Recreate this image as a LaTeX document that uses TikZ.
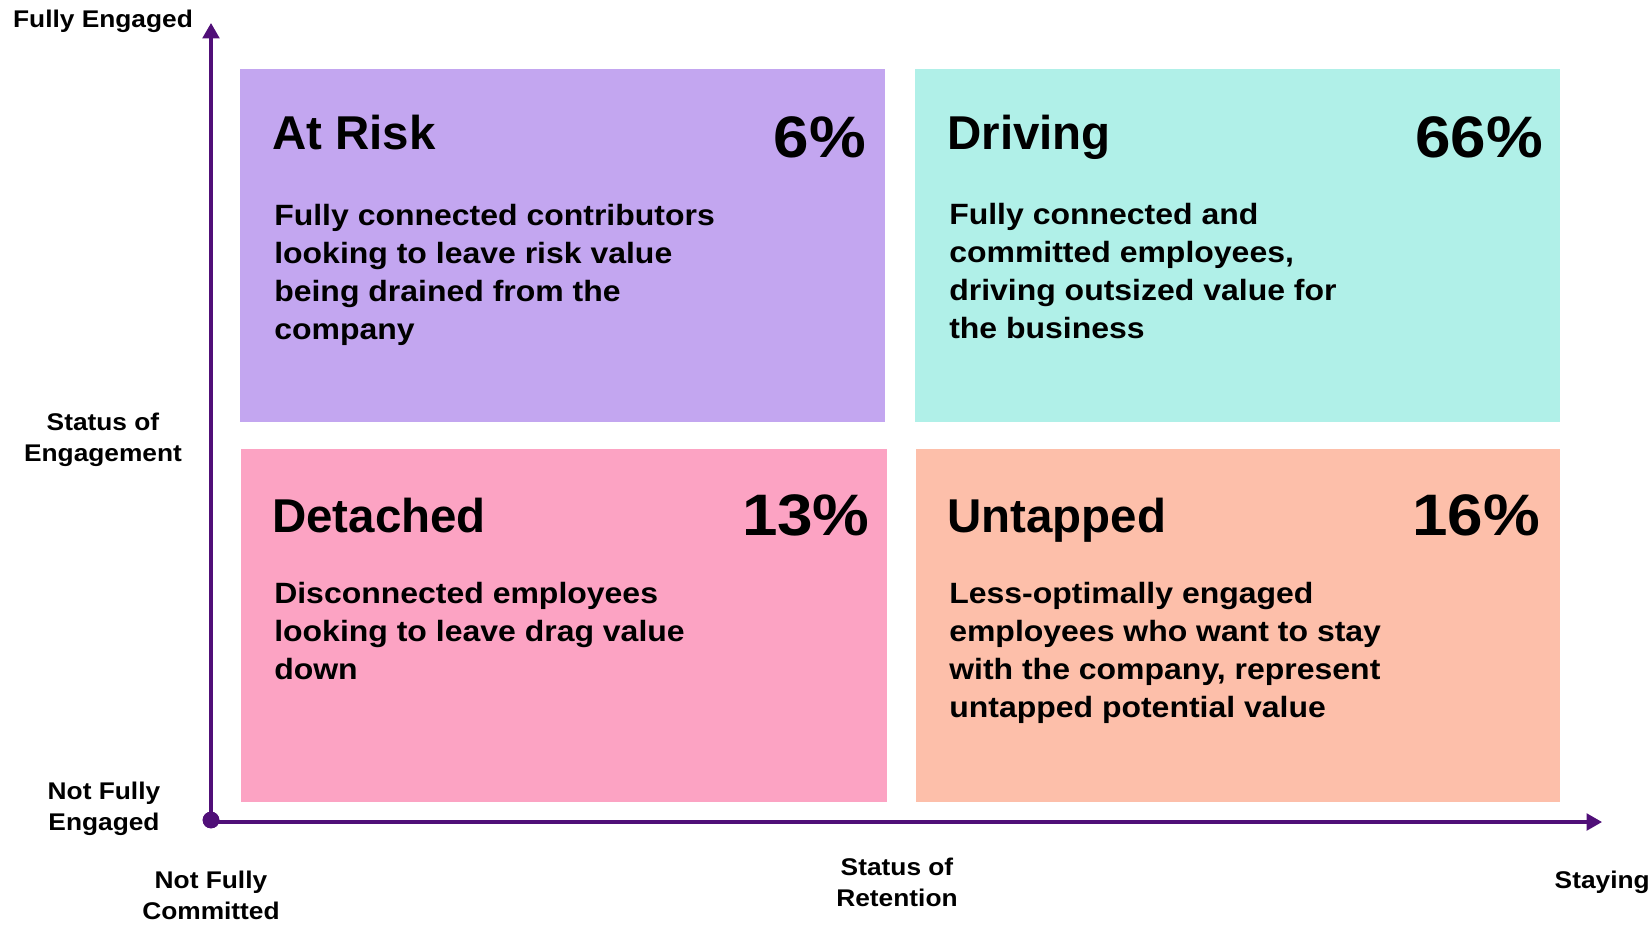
\documentclass[tikz,border=0pt]{standalone}
\usepackage{fontspec}
\setmainfont{Liberation Sans}
\newfontfamily\widefont{Liberation Sans}[FakeStretch=1.09]
\usetikzlibrary{arrows.meta}

\definecolor{riskfill}{RGB}{195,166,240}
\definecolor{drivefill}{RGB}{176,240,232}
\definecolor{detachfill}{RGB}{252,163,195}
\definecolor{untapfill}{RGB}{253,191,170}
\definecolor{axiscol}{RGB}{80,15,120}

\newcommand{\fsz}[2]{\fontsize{#1}{#2}\selectfont}
\newcommand{\leftlines}[1]{\begin{tabular}[t]{@{}l@{}}#1\end{tabular}}
\newcommand{\centerlines}[1]{\begin{tabular}[t]{@{}c@{}}#1\end{tabular}}

\begin{document}
\begin{tikzpicture}[x=0.75pt,y=-0.75pt,
  ttl/.style={anchor=base west, inner sep=0pt, font=\bfseries\fsz{35.6}{42}},
  pct/.style={anchor=base east, inner sep=0pt, font=\widefont\bfseries\fsz{43.9}{52}},
  body/.style={anchor=base west, inner sep=0pt, font=\widefont\bfseries\fsz{22}{28.5}},
  axlabel/.style={anchor=base, inner sep=0pt, font=\widefont\bfseries\fsz{18.1}{23.4}},
  axisline/.style={draw=axiscol, line width=2.3pt, -{Triangle[length=11.5pt,width=12.5pt]}},
  dot/.style={circle, fill=axiscol, minimum size=12.5pt, inner sep=0pt}
]
\useasboundingbox (0,0) rectangle (1651,925);

% quadrant panels
\fill[riskfill]   (240,69)  rectangle (885,422);
\fill[drivefill]  (915,69)  rectangle (1560,422);
\fill[detachfill] (241,449) rectangle (887,802);
\fill[untapfill]  (916,449) rectangle (1560,802);

% axes
\node[dot] (origin) at (211,820) {};
\coordinate (vtip) at (211,23);
\coordinate (htip) at (1602,822);
\draw[axisline] (origin.center) -- (vtip);
\draw[axisline] (origin.center |- htip) -- (htip);
\node[dot] at (origin) {};

% axis labels
\node[axlabel] (fullyeng) at (103,27) {Fully Engaged};
\node[axlabel] (engstatus) at (103,430) {\centerlines{Status of\\Engagement}};
\node[axlabel] (notfullyeng) at (104,799) {\centerlines{Not Fully\\Engaged}};
\node[axlabel] (notcommitted) at (211,888) {\centerlines{Not Fully\\Committed}};
\node[axlabel] (retstatus) at (897,875) {\centerlines{Status of\\Retention}};
\node[axlabel, anchor=base east] (staying) at (1650,888) {Staying};

% At Risk
\node[ttl] (riskT) at (272,149) {At Risk};
\node[pct] (riskP) at (866,157) {6\%};
\node[body] (riskB) at (274,225) {\leftlines{Fully connected contributors\\looking to leave risk value\\being drained from the\\company}};

% Driving
\node[ttl] (driveT) at (947,149) {Driving};
\node[pct] (driveP) at (1543,157) {66\%};
\node[body] (driveB) at (949,224) {\leftlines{Fully connected and\\committed employees,\\driving outsized value for\\the business}};

% Detached
\node[ttl] (detachT) at (272,532) {Detached};
\node[pct] (detachP) at (870,535) {13\%};
\node[body] (detachB) at (274,603) {\leftlines{Disconnected employees\\looking to leave drag value\\down}};

% Untapped
\node[ttl] (untapT) at (947,532) {Untapped};
\node[pct] (untapP) at (1540,535) {16\%};
\node[body] (untapB) at (949,603) {\leftlines{Less-optimally engaged\\employees who want to stay\\with the company, represent\\untapped potential value}};
\end{tikzpicture}
\end{document}
